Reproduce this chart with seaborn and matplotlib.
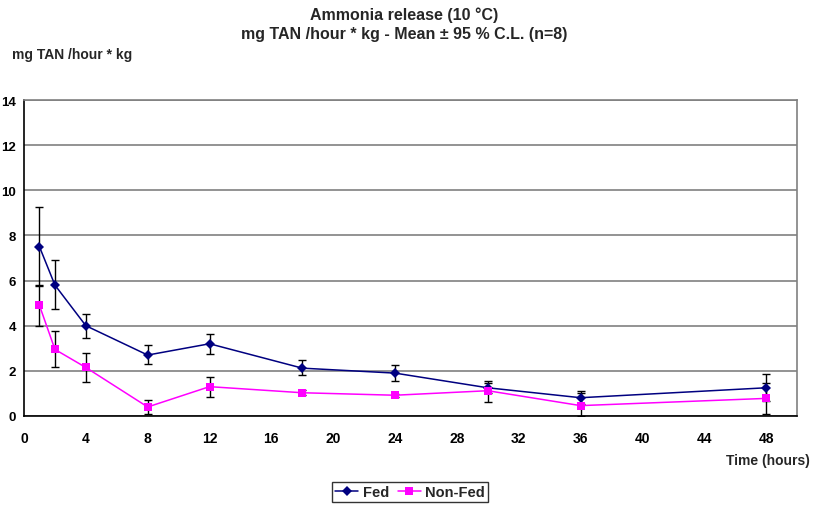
import pandas as pd
import seaborn as sns
import matplotlib.pyplot as plt

sns.set_style('white')
plt.rcParams['font.family'] = ['Liberation Sans', 'DejaVu Sans']
plt.rcParams['font.weight'] = 'bold'

# time points (hours)
hours = [1, 2, 4, 8, 12, 18, 24, 30, 36, 48]

# Fed: mean and 95 % C.L. bounds
fed_mean = [7.5, 5.8, 4.0, 2.7, 3.2, 2.12, 1.9, 1.25, 0.81, 1.25]
fed_low = [5.75, 4.75, 3.45, 2.3, 2.75, 1.81, 1.54, 1.0, 0.55, 0.65]
fed_high = [9.25, 6.9, 4.5, 3.15, 3.65, 2.49, 2.27, 1.48, 1.09, 1.87]

# Non-Fed: mean and 95 % C.L. bounds
nonfed_mean = [4.9, 2.95, 2.15, 0.4, 1.3, 1.03, 0.92, 1.12, 0.46, 0.78]
nonfed_low = [4.0, 2.15, 1.5, 0.1, 0.85, 0.93, 0.85, 0.63, 0.0, 0.09]
nonfed_high = [5.8, 3.75, 2.8, 0.7, 1.75, 1.13, 0.99, 1.57, 1.0, 1.46]

df = pd.DataFrame({
    'hours': hours * 2,
    'value': fed_mean + nonfed_mean,
    'group': ['Fed'] * len(hours) + ['Non-Fed'] * len(hours),
})

fig = plt.figure(figsize=(8.14, 5.06), dpi=100)
ax = fig.add_axes([24 / 814, 1 - 417 / 506, (797 - 24) / 814, (417 - 101) / 506])

# error bars first so markers sit on top
for m, lo, hi in [(fed_mean, fed_low, fed_high), (nonfed_mean, nonfed_low, nonfed_high)]:
    yerr = [[a - b for a, b in zip(m, lo)], [b - a for a, b in zip(m, hi)]]
    ax.errorbar(hours, m, yerr=yerr, fmt='none', ecolor='black',
                elinewidth=1, capsize=3, capthick=1, zorder=2)

sns.lineplot(data=df, x='hours', y='value', hue='group', style='group',
             palette={'Fed': '#000080', 'Non-Fed': '#FF00FF'},
             markers={'Fed': 'D', 'Non-Fed': 's'}, dashes=False,
             markersize=6, markeredgewidth=0, linewidth=1.1, ax=ax, zorder=3)
# smaller diamond for Fed
for line in ax.lines:
    if line.get_marker() == 'D':
        line.set_markersize(5)

ax.set_xlim(0, 50)
ax.set_ylim(0, 14)
ax.set_xticks(range(0, 49, 4))
ax.set_yticks(range(0, 15, 2))
ax.tick_params(axis='both', direction='out', length=3, width=1, labelsize=10,
               colors='black')
ax.tick_params(axis='x', pad=8)
ax.tick_params(axis='y', labelsize=9.5, pad=2.5)
for lab in ax.get_xticklabels() + ax.get_yticklabels():
    lab.set_fontweight('bold')
ax.yaxis.grid(True, color='#808080', linewidth=1.2)
ax.set_axisbelow(True)
ax.spines['left'].set_color('black')
ax.spines['bottom'].set_color('black')
ax.spines['top'].set_color('#808080')
ax.spines['right'].set_color('#808080')
for s in ax.spines.values():
    s.set_linewidth(1.2)
ax.set_xlabel('')
ax.set_ylabel('')

fig.text(404 / 814, 1 - 15 / 506, 'Ammonia release (10 °C)', ha='center', va='center',
         fontsize=11.5, fontweight='bold')
fig.text(404 / 814, 1 - 35 / 506, 'mg TAN /hour * kg - Mean ± 95 % C.L. (n=8)',
         ha='center', va='center', fontsize=11.5, fontweight='bold')
fig.text(12 / 814, 1 - 55 / 506, 'mg TAN /hour * kg', ha='left', va='center',
         fontsize=10, fontweight='bold')
fig.text(810 / 814, 1 - 461 / 506, 'Time (hours)', ha='right', va='center',
         fontsize=10, fontweight='bold')

handles, labels = ax.get_legend_handles_labels()
ax.legend_.remove()
leg = fig.legend(handles, labels, loc='center', bbox_to_anchor=(410 / 814, 1 - 493 / 506),
                 ncol=2, frameon=True, fancybox=False, fontsize=10.5, handlelength=1.6,
                 columnspacing=0.6, handletextpad=0.3, borderpad=0.2, borderaxespad=0)
leg.get_frame().set_edgecolor('black')
leg.get_frame().set_linewidth(1)
for t in leg.get_texts():
    t.set_fontweight('bold')

fig.savefig('out.png', dpi=100)
